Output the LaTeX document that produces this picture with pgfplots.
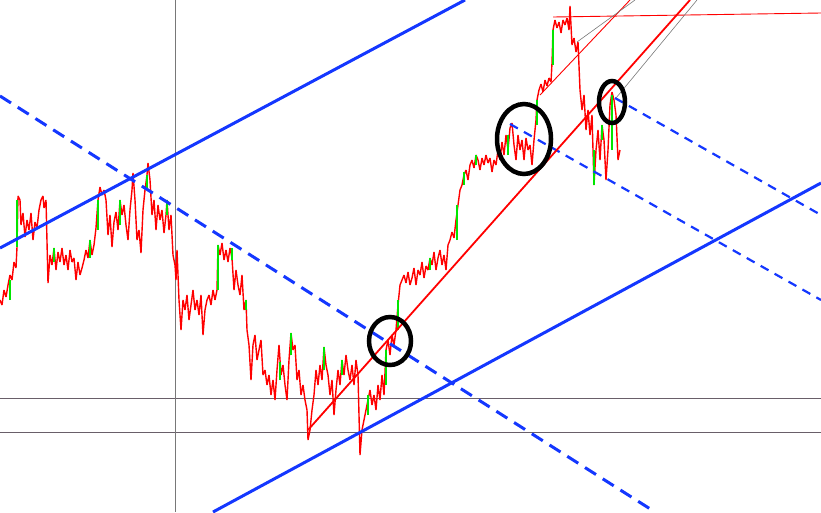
\documentclass[border=0pt]{standalone}
\usepackage{pgfplots}
\pgfplotsset{compat=1.18}
\definecolor{tblue}{RGB}{20,55,255}
\definecolor{tred}{RGB}{255,0,0}
\definecolor{tgreen}{RGB}{0,230,0}
\definecolor{hgray}{RGB}{105,95,105}
\definecolor{vgray}{RGB}{120,120,120}
\begin{document}
\begin{tikzpicture}
\begin{axis}[
  width=821pt, height=512pt, scale only axis,
  xmin=0, xmax=821, ymin=0, ymax=512, y dir=reverse,
  axis lines=none, clip=true,
  unbounded coords=jump,
]
% grid-like reference lines
\addplot[hgray, line width=0.8pt] coordinates {(0,398) (821,398)};
\addplot[hgray, line width=0.8pt] coordinates {(0,432) (821,432)};
\addplot[vgray, line width=0.8pt] coordinates {(175,0) (175,512)};
% price
\addplot[tred, line width=1.4pt, line join=miter, miter limit=2] coordinates {
(0,300)(2,305)(4,290)(6,297)(8,285)(10,275)(12,280)(14,262)(16,268)(17,247)(18,196)(20,200)(21,225)(23,213)(25,237)(27,220)(29,230)(31,213)(33,240)(35,222)(37,228)(39,210)(41,200)(43,196)(44,208)(46,200)(48,283)(50,255)(52,265)(54,248)(56,270)(58,252)(60,262)(62,248)(64,265)(66,255)(68,270)(70,250)(72,262)(74,258)(76,280)(78,262)(80,275)(82,268)(84,260)(86,250)(88,258)(90,240)(92,255)(94,245)(96,228)(98,200)(100,187)(102,195)(104,190)(106,200)(108,235)(110,215)(112,247)(114,222)(116,212)(118,230)(120,200)(122,215)(124,205)(126,225)(128,240)(130,210)(132,190)(133,173)(135,200)(137,240)(139,230)(141,253)(143,210)(145,190)(147,175)(148,163)(150,180)(152,215)(154,200)(156,230)(158,205)(160,220)(162,210)(164,233)(166,215)(167,200)(169,230)(171,215)(173,255)(175,265)(176,280)(177,250)(179,300)(181,330)(183,300)(185,310)(187,295)(189,320)(191,305)(193,290)(195,310)(197,300)(199,315)(201,295)(203,335)(205,310)(207,300)(209,295)(211,305)(213,290)(215,300)(217,290)(218,245)(220,255)(222,243)(224,260)(226,250)(228,262)(230,248)(232,258)(234,290)(236,270)(238,285)(240,295)(242,275)(244,310)(246,300)(247,330)(249,345)(251,380)(253,345)(255,335)(257,360)(259,350)(261,340)(263,375)(265,370)(267,385)(269,375)(271,395)(273,380)(275,400)(277,370)(279,345)(281,375)(283,365)(285,385)(287,400)(289,360)(291,333)(293,350)(295,345)(297,380)(299,370)(301,395)(303,385)(305,400)(307,410)(308,440)(310,430)(312,410)(314,395)(316,370)(318,385)(320,365)(322,380)(324,347)(326,365)(328,375)(330,395)(332,380)(334,415)(336,390)(338,370)(340,385)(342,360)(344,375)(346,355)(348,370)(350,380)(352,365)(354,385)(356,360)(358,375)(360,455)(362,430)(364,420)(366,410)(368,400)(370,390)(372,405)(374,395)(376,410)(378,385)(380,400)(382,375)(384,395)(386,350)(388,340)(390,355)(392,335)(394,345)(396,330)(398,305)(400,285)(402,280)(404,275)(406,283)(408,272)(410,285)(412,278)(414,268)(416,285)(418,270)(420,275)(422,262)(424,278)(426,266)(428,270)(430,258)(432,265)(434,252)(436,270)(438,258)(440,250)(442,265)(444,255)(446,270)(448,245)(450,240)(452,232)(454,238)(456,220)(458,205)(460,190)(462,185)(464,175)(466,170)(468,180)(470,165)(472,160)(474,168)(476,155)(478,160)(480,170)(482,158)(484,165)(486,155)(488,163)(490,158)(492,172)(494,160)(496,165)(498,150)(500,160)(502,142)(504,155)(506,135)(508,150)(510,128)(512,123)(514,145)(516,160)(518,135)(520,150)(522,140)(524,160)(526,138)(528,150)(530,145)(532,165)(534,140)(536,120)(537,100)(539,90)(541,84)(543,92)(545,80)(547,86)(549,78)(551,82)(552,63)(553,30)(555,20)(557,28)(559,22)(561,33)(563,20)(565,25)(567,18)(569,30)(570,6)(572,45)(574,38)(576,52)(578,42)(580,90)(582,110)(584,95)(586,130)(588,110)(590,135)(592,115)(594,185)(596,150)(598,130)(600,160)(602,125)(604,140)(606,180)(608,150)(610,105)(612,92)(614,100)(616,115)(618,160)(620,150)
};
% up candles (green)
\addplot[tgreen, line width=1.1pt] coordinates {
(17,247)(17,200) (nan,nan) (98,230)(98,200) (nan,nan) (54,262)(54,248) (nan,nan) (90,258)(90,240)
(nan,nan) (120,225)(120,200) (nan,nan) (147,190)(147,175) (nan,nan) (167,215)(167,200)
(nan,nan) (218,290)(218,245) (nan,nan) (291,355)(291,333) (nan,nan) (324,370)(324,347)
(nan,nan) (368,415)(368,395) (nan,nan) (386,385)(386,350) (nan,nan) (398,330)(398,300)
(nan,nan) (430,270)(430,258) (nan,nan) (457,240)(457,205) (nan,nan) (464,185)(464,172)
(nan,nan) (537,125)(537,100) (nan,nan) (553,65)(553,30) (nan,nan) (594,185)(594,150)
(nan,nan) (602,140)(602,125) (nan,nan) (612,150)(612,95) (nan,nan) (246,310)(246,300)
(nan,nan) (342,375)(342,360) (nan,nan) (508,155)(508,135) (nan,nan) (10,300)(10,280)
(nan,nan) (280,380)(280,362) (nan,nan) (232,260)(232,248) (nan,nan) (476,165)(476,155)
};
% blue channel lines
\addplot[tblue, line width=3pt] coordinates {(0,248) (465,0)};
\addplot[tblue, line width=3pt] coordinates {(213,512) (821,183)};
\addplot[tblue, line width=3pt, dash pattern=on 13pt off 8pt] coordinates {(0,96) (655,512)};
\addplot[tblue, line width=2.2pt, dash pattern=on 9pt off 7pt] coordinates {(510,124) (821,300)};
\addplot[tblue, line width=2.2pt, dash pattern=on 9pt off 7pt] coordinates {(615,98) (821,215)};
% red and gray trend lines
\addplot[tred, line width=1.8pt] coordinates {(308,430) (690,0)};
\addplot[tred, line width=0.9pt] coordinates {(540,95) (630,0)};
\addplot[tred, line width=0.9pt] coordinates {(553,17) (821,13)};
\addplot[vgray, line width=0.6pt] coordinates {(577,42) (635,0)};
\addplot[vgray, line width=0.6pt] coordinates {(616,98) (697,0)};
% highlight ellipses
\draw[black, line width=4.5pt] (axis cs:390,341) ellipse [x radius=21pt, y radius=24pt];
\draw[black, line width=4.5pt] (axis cs:524,139) ellipse [x radius=27pt, y radius=35pt];
\draw[black, line width=4.5pt] (axis cs:612,102) ellipse [x radius=13pt, y radius=21pt];
\end{axis}
\end{tikzpicture}
\end{document}
